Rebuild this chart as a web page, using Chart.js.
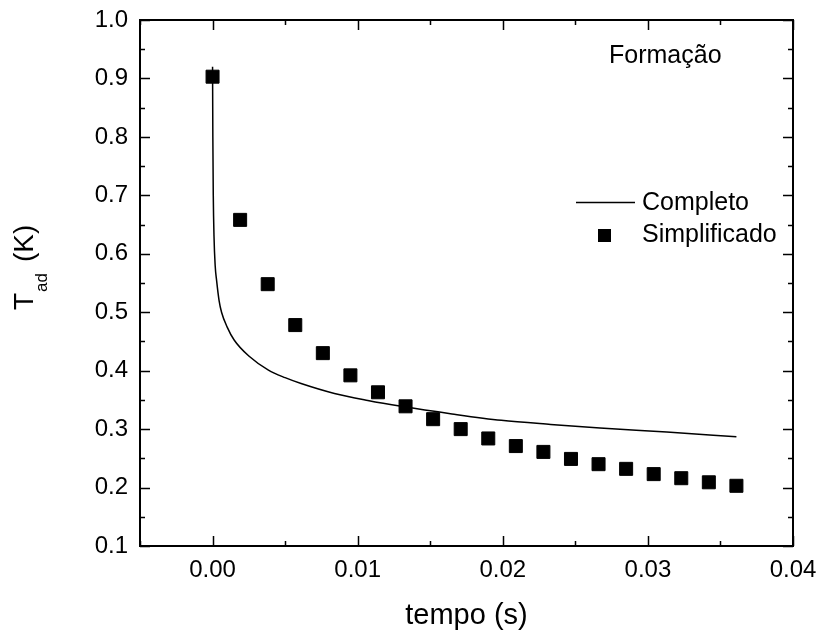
<!DOCTYPE html>
<html>
<head>
<meta charset="utf-8">
<script src="https://cdn.jsdelivr.net/npm/chart.js@4.4.0/dist/chart.umd.min.js"></script>
<style>
  html, body { margin: 0; padding: 0; background: #fff; }
  #wrap { width: 822px; height: 639px; }
</style>
</head>
<body>
<div id="wrap"><canvas id="myChart" width="822" height="639"></canvas></div>
<script>
// "Completo" curve (tempo, T_ad)
const completoX = [0, 0.00002, 0.00005, 0.0001, 0.00018, 0.00028, 0.00045, 0.00062, 0.001, 0.0015,
  0.0025, 0.00385, 0.005, 0.0061, 0.0084, 0.0107, 0.013, 0.0165, 0.0199, 0.0233, 0.0267, 0.0313, 0.0361];
const completoY = [0.92, 0.80, 0.70, 0.63, 0.58, 0.554, 0.52, 0.50, 0.475, 0.452,
  0.425, 0.401, 0.388, 0.378, 0.361, 0.349, 0.339, 0.326, 0.315, 0.308, 0.302, 0.295, 0.287];

// "Simplificado" squares
const simpX = [0, 0.0019, 0.0038, 0.0057, 0.0076, 0.0095, 0.0114, 0.0133, 0.0152, 0.0171,
  0.019, 0.0209, 0.0228, 0.0247, 0.0266, 0.0285, 0.0304, 0.0323, 0.0342, 0.0361];
const simpY = [0.903, 0.658, 0.548, 0.478, 0.430, 0.392, 0.363, 0.339, 0.317, 0.300,
  0.284, 0.271, 0.261, 0.249, 0.240, 0.232, 0.223, 0.216, 0.209, 0.203];

const xTicks = [0, 0.01, 0.02, 0.03, 0.04];
const yTicks = [0.1, 0.2, 0.3, 0.4, 0.5, 0.6, 0.7, 0.8, 0.9, 1.0];

const FONT = 'Liberation Sans, Arial, sans-serif';

const data = {
  datasets: [{
    label: 'Completo',
    data: completoX.map((x, i) => ({ x: x, y: completoY[i] })),
    borderColor: '#000',
    borderWidth: 1.5,
    pointRadius: 0,
    showLine: true,
    cubicInterpolationMode: 'monotone',
    fill: false
  },
  {
    label: 'Simplificado',
    data: simpX.map((x, i) => ({ x: x, y: simpY[i] })),
    backgroundColor: '#000',
    borderColor: '#000',
    pointStyle: 'rect',
    pointRadius: 9.2,
    showLine: false
  }]
};

// frame, inner ticks, legend, annotation and y title
const decor = {
  id: 'decor',
  afterDraw(chart) {
    const ctx = chart.ctx, a = chart.chartArea;
    const xs = chart.scales.x, ys = chart.scales.y;
    ctx.save();
    ctx.strokeStyle = '#000';
    ctx.lineWidth = 2;
    ctx.strokeRect(a.left, a.top, a.right - a.left, a.bottom - a.top);

    ctx.lineWidth = 1.5;
    ctx.beginPath();
    for (let v = -0.005; v <= 0.0401; v += 0.005) {
      const px = Math.round(xs.getPixelForValue(v)) + 0.5;
      const major = Math.abs(v / 0.01 - Math.round(v / 0.01)) < 1e-6;
      const len = major ? 10 : 5;
      ctx.moveTo(px, a.bottom); ctx.lineTo(px, a.bottom - len);
      ctx.moveTo(px, a.top); ctx.lineTo(px, a.top + len);
    }
    for (let v = 0.1; v <= 1.0001; v += 0.05) {
      const py = Math.round(ys.getPixelForValue(v)) + 0.5;
      const major = Math.abs(v * 10 - Math.round(v * 10)) < 1e-6;
      const len = major ? 10 : 5;
      ctx.moveTo(a.left, py); ctx.lineTo(a.left + len, py);
      ctx.moveTo(a.right, py); ctx.lineTo(a.right - len, py);
    }
    ctx.stroke();

    // legend
    ctx.fillStyle = '#000';
    ctx.font = '25px ' + FONT;
    ctx.textBaseline = 'alphabetic';
    ctx.textAlign = 'left';
    ctx.lineWidth = 1.5;
    ctx.beginPath();
    ctx.moveTo(576, 202.5); ctx.lineTo(635, 202.5);
    ctx.stroke();
    ctx.fillText('Completo', 642, 210);
    ctx.fillRect(598, 229, 13, 13);
    ctx.fillText('Simplificado', 642, 242);

    // annotation
    ctx.fillText('Formação', 609, 63);

    // y title with subscript
    ctx.translate(33, 310);
    ctx.rotate(-Math.PI / 2);
    ctx.font = '28px ' + FONT;
    ctx.fillText('T', 0, 0);
    ctx.font = '17px ' + FONT;
    ctx.fillText('ad', 18, 14);
    ctx.font = '28px ' + FONT;
    ctx.fillText('(K)', 48, 0);
    ctx.restore();
  }
};

const config = {
  type: 'scatter',
  data: data,
  options: {
    responsive: false,
    animation: false,
    layout: { padding: { top: 20, right: 29, left: 0, bottom: 0 } },
    plugins: {
      legend: { display: false },
      tooltip: { enabled: false }
    },
    scales: {
      x: {
        type: 'linear',
        min: -0.005,
        max: 0.04,
        afterFit(s) { s.height = 93; s.paddingLeft = 0; s.paddingRight = 0; },
        afterBuildTicks(s) { s.ticks = xTicks.map(v => ({ value: v })); },
        grid: { display: false, drawTicks: false },
        border: { display: false },
        ticks: {
          color: '#000',
          padding: 10,
          font: { family: FONT, size: 24 },
          callback: v => v.toFixed(2)
        },
        title: {
          display: true,
          text: 'tempo (s)',
          color: '#000',
          font: { family: FONT, size: 29 },
          padding: { top: 10, bottom: 6 }
        }
      },
      y: {
        type: 'linear',
        min: 0.1,
        max: 1.0,
        afterFit(s) { s.width = 140; s.paddingTop = 0; s.paddingBottom = 0; },
        afterBuildTicks(s) { s.ticks = yTicks.map(v => ({ value: v })); },
        grid: { display: false, drawTicks: false },
        border: { display: false },
        ticks: {
          color: '#000',
          padding: 12,
          font: { family: FONT, size: 24 },
          callback: v => v.toFixed(1)
        }
      }
    }
  },
  plugins: [decor]
};

var myChart = new Chart(document.getElementById('myChart'), config);
</script>
</body>
</html>
